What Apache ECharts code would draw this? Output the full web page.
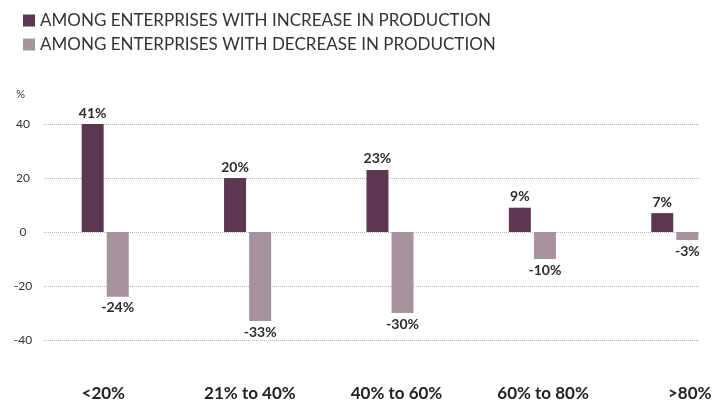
<!DOCTYPE html>
<html>
<head>
<meta charset="utf-8">
<script src="https://cdn.jsdelivr.net/npm/echarts@6/dist/echarts.min.js"></script>
<style>
  html, body { margin: 0; padding: 0; background: #fff; }
  #charts { width: 726px; height: 405px; }
</style>
</head>
<body>
<div id="charts"></div>
<script>
const categories = ['<20%', '21% to 40%', '40% to 60%', '60% to 80%', '>80%'];
const increaseValues = [41, 20, 23, 9, 7];
const decreaseValues = [-24, -33, -30, -10, -3];
const seriesNames = ['AMONG ENTERPRISES WITH INCREASE IN PRODUCTION', 'AMONG ENTERPRISES WITH DECREASE IN PRODUCTION'];
const yTicks = { min: -40, max: 40, step: 20 };

const font = 'Lato';
const dark = '#5b3752';
const light = '#a6939f';

const barLabel = (pos) => ({
  show: true,
  position: pos,
  distance: 4,
  formatter: '{c}%',
  color: '#2b2b2b',
  fontWeight: 'bold',
  fontSize: 14,
  fontFamily: font
});

const draw = () => {
  let myChart = echarts.init(document.querySelector('#charts'));
  myChart.setOption({
    animation: false,
    legend: {
      orient: 'vertical',
      left: 18,
      top: 7,
      icon: 'rect',
      itemWidth: 12,
      itemHeight: 12,
      itemGap: 7,
      selectedMode: false,
      textStyle: { fontSize: 17, color: '#333', fontFamily: font },
      data: seriesNames
    },
    grid: [
      // bars (band runs a little past the canvas edge)
      { left: 34, width: 712, top: 124, bottom: 65, outerBoundsMode: 'none' },
      // dotted lines and y labels
      { left: 44, right: 26, top: 124, bottom: 65, outerBoundsMode: 'none' },
      // category labels
      { left: 30, width: 733, top: 124, bottom: 25, outerBoundsMode: 'none' }
    ],
    xAxis: [
      { gridIndex: 0, type: 'category', data: categories, show: false },
      { gridIndex: 1, type: 'value', show: false },
      {
        gridIndex: 2, type: 'category', data: categories,
        axisLine: { show: false }, axisTick: { show: false },
        axisLabel: { margin: 5, color: '#222', fontWeight: 'bold', fontSize: 17, fontFamily: font }
      }
    ],
    yAxis: [
      { gridIndex: 0, type: 'value', min: yTicks.min, max: yTicks.max, interval: yTicks.step, show: false },
      {
        gridIndex: 1, type: 'value', min: yTicks.min, max: yTicks.max, interval: yTicks.step,
        name: '%',
        nameLocation: 'end',
        nameGap: 24,
        nameTextStyle: { align: 'right', padding: [0, 19, 0, 0], fontSize: 11, color: '#333', fontFamily: font },
        axisLine: { show: false }, axisTick: { show: false },
        axisLabel: { align: 'center', margin: 21, fontSize: 12, color: '#333', fontFamily: font },
        splitLine: { lineStyle: { type: 'dotted', color: '#b5b5b5', width: 1 } }
      },
      { gridIndex: 2, type: 'value', show: false }
    ],
    series: [{
      name: seriesNames[0],
      type: 'bar',
      xAxisIndex: 0,
      yAxisIndex: 0,
      data: increaseValues,
      barWidth: 22,
      barGap: '14%',
      itemStyle: { color: dark },
      label: barLabel('top')
    }, {
      name: seriesNames[1],
      type: 'bar',
      xAxisIndex: 0,
      yAxisIndex: 0,
      data: decreaseValues,
      barWidth: 22,
      barGap: '14%',
      itemStyle: { color: light },
      label: barLabel('bottom')
    }]
  });
};

draw();
</script>
</body>
</html>
